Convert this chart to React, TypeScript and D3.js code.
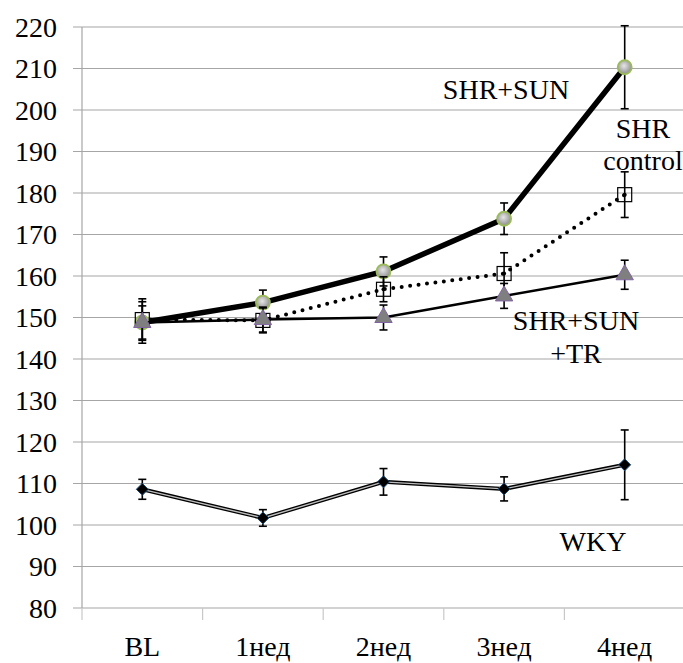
import React from 'react';
import * as d3 from 'd3';

// data
const categories = ['BL', '1нед', '2нед', '3нед', '4нед'];
const sunMean = [148.8, 153.6, 161.1, 173.8, 210.3];
const sunErr = [5, 3, 3.5, 3.8, 10];
const controlMean = [149.5, 149.3, 156.8, 160.6, 179.6];
const controlErr = [5, 3, 3, 5, 5.5];
const trMean = [148.8, 149.5, 150.0, 155.2, 160.3];
const trErr = [4, 3, 3, 3, 3.5];
const wkyMean = [108.6, 101.7, 110.4, 108.7, 114.5];
const wkyErr = [2.4, 2, 3.2, 2.9, 8.4];
const yTicks = [80, 90, 100, 110, 120, 130, 140, 150, 160, 170, 180, 190, 200, 210, 220];

const font = "'Liberation Serif', 'Times New Roman', serif";
const gridColor = '#a6a6a6';

export default function App() {
  // layout
  const W = 683, H = 663;
  const left = 82, right = 685, top = 27, bottom = 608;

  const x = d3.scaleBand<string>().domain(categories).range([left, right]);
  const cx = (i: number) => (x(categories[i]) as number) + x.bandwidth() / 2;
  const y = d3.scaleLinear().domain([80, 220]).range([bottom, top]);

  const line = d3.line<number>().x((_, i) => cx(i)).y(d => y(d));

  const errBars = (mean: number[], err: number[], key: string) =>
    mean.map((m, i) => (
      <g key={key + i} stroke="#000" strokeWidth={1.6}>
        <line x1={cx(i)} x2={cx(i)} y1={y(m - err[i])} y2={y(m + err[i])} />
        <line x1={cx(i) - 4} x2={cx(i) + 4} y1={y(m - err[i])} y2={y(m - err[i])} />
        <line x1={cx(i) - 4} x2={cx(i) + 4} y1={y(m + err[i])} y2={y(m + err[i])} />
      </g>
    ));

  const tri = d3.symbol(d3.symbolTriangle, 130)() as string;
  const diamond = 'M0,-6L6,0L0,6L-6,0Z';

  return (
    <svg width={W} height={H} style={{ display: 'block', position: 'absolute', left: 0, top: 0, fontFamily: font }}>
      <defs>
        <radialGradient id="sunFill" cx="45%" cy="40%" r="60%">
          <stop offset="0%" stopColor="#e6e6e6" />
          <stop offset="100%" stopColor="#8c8c8c" />
        </radialGradient>
      </defs>
      <rect width={W} height={H} fill="#fff" />

      {/* grid */}
      {yTicks.map(t => (
        <line key={'g' + t} x1={left - 9} x2={W} y1={y(t)} y2={y(t)} stroke={gridColor} strokeWidth={1.2} />
      ))}
      <line x1={left} x2={left} y1={top} y2={bottom} stroke={gridColor} strokeWidth={1.2} />
      {categories.map(c => (
        <line key={'xt' + c} x1={x(c) as number} x2={x(c) as number} y1={bottom} y2={bottom + 12} stroke="#c8c8c8" strokeWidth={1.2} />
      ))}

      {/* y labels */}
      {yTicks.map(t => (
        <text key={'yl' + t} x={57} y={y(t)} dy="0.35em" textAnchor="end" style={{ fontFamily: font }} fontSize={28} fill="#000">{t}</text>
      ))}
      {/* x labels */}
      {categories.map((c, i) => (
        <text key={'xl' + c} x={cx(i)} y={656} textAnchor="middle" style={{ fontFamily: font }} fontSize={28} fill="#000">{c}</text>
      ))}

      {/* WKY */}
      <path d={line(wkyMean) as string} fill="none" stroke="#000" strokeWidth={4} />
      <path d={line(wkyMean) as string} fill="none" stroke="#bdbdbd" strokeWidth={1.4} />
      {errBars(wkyMean, wkyErr, 'we')}
      {wkyMean.map((m, i) => (
        <path key={'wd' + i} d={diamond} transform={`translate(${cx(i)},${y(m)})`} fill="#000" stroke="#1f4e79" strokeWidth={1} />
      ))}

      {/* SHR+SUN */}
      {errBars(sunMean, sunErr, 'se')}
      <path d={line(sunMean) as string} fill="none" stroke="#000" strokeWidth={5.5} />
      {sunMean.map((m, i) => (
        <circle key={'sc' + i} cx={cx(i)} cy={y(m)} r={7} fill="url(#sunFill)" stroke="#9bbb59" strokeWidth={1.8} />
      ))}

      {/* SHR control */}
      {errBars(controlMean, controlErr, 'ce')}
      <path d={line(controlMean) as string} fill="none" stroke="#000" strokeWidth={4} strokeDasharray="0 8.5" strokeLinecap="round" />
      {controlMean.map((m, i) => (
        <g key={'cs' + i}>
          <rect x={cx(i) - 7} y={y(m) - 7} width={14} height={14} fill="none" stroke="#000" strokeWidth={1.2} />
          <circle cx={cx(i)} cy={y(m)} r={2} fill="#000" />
        </g>
      ))}

      {/* SHR+SUN+TR */}
      {errBars(trMean, trErr, 'te')}
      <path d={line(trMean) as string} fill="none" stroke="#000" strokeWidth={2.6} />
      {trMean.map((m, i) => (
        <path key={'tt' + i} d={tri} transform={`translate(${cx(i)},${y(m)})`} fill="#7f7f7f" stroke="#8064a2" strokeWidth={1} />
      ))}

      {/* labels */}
      <g style={{ fontFamily: font }} fontSize={28} fill="#000" textAnchor="middle">
        <text x={506} y={99}>SHR+SUN</text>
        <text x={643} y={138}>SHR</text>
        <text x={643} y={170}>control</text>
        <text x={576} y={330}>SHR+SUN</text>
        <text x={576} y={363}>+TR</text>
        <text x={593} y={551}>WKY</text>
      </g>
    </svg>
  );
}
